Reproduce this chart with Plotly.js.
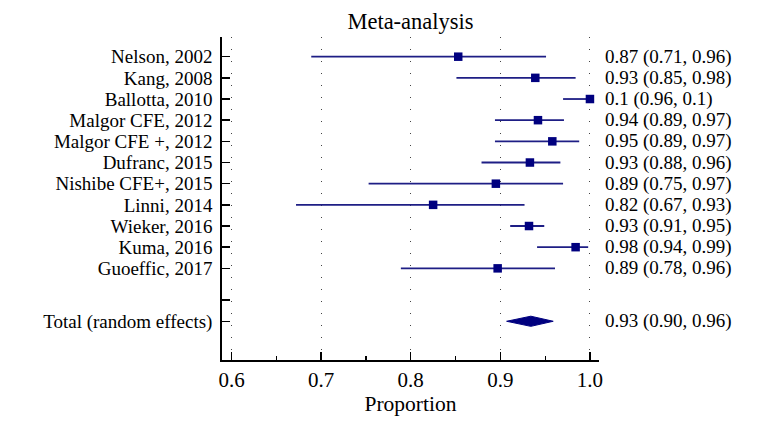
<!DOCTYPE html>
<html>
<head>
<meta charset="utf-8">
<script src="https://cdn.plot.ly/plotly-3.0.1.min.js"></script>
<style>html,body{margin:0;padding:0;background:#fff;}#chart{width:758px;height:429px;}</style>
</head>
<body>
<div id="chart"></div>
<script>
const studies = ["Nelson, 2002","Kang, 2008","Ballotta, 2010","Malgor CFE, 2012","Malgor CFE +, 2012","Dufranc, 2015","Nishibe CFE+, 2015","Linni, 2014","Wieker, 2016","Kuma, 2016","Guoeffic, 2017"];
const estimates = [0.853, 0.939, 1.0, 0.942, 0.958, 0.933, 0.895, 0.825, 0.932, 0.984, 0.897];
const lowerCI   = [0.689, 0.851, 0.970, 0.894, 0.894, 0.879, 0.753, 0.672, 0.911, 0.941, 0.789];
const upperCI   = [0.951, 0.984, 1.0, 0.971, 0.988, 0.967, 0.970, 0.927, 0.949, 0.998, 0.961];
const ciLabels  = ["0.87 (0.71, 0.96)","0.93 (0.85, 0.98)","0.1 (0.96, 0.1)","0.94 (0.89, 0.97)","0.95 (0.89, 0.97)","0.93 (0.88, 0.96)","0.89 (0.75, 0.97)","0.82 (0.67, 0.93)","0.93 (0.91, 0.95)","0.98 (0.94, 0.99)","0.89 (0.78, 0.96)"];
const totalLabel = "Total (random effects)";
const totalEstimate = 0.934;
const totalLower = 0.907;
const totalUpper = 0.959;
const totalCILabel = "0.93 (0.90, 0.96)";
const xTickVals = [0.6, 0.7, 0.8, 0.9, 1.0];
const xTickText = ["0.6","0.7","0.8","0.9","1.0"];

const navy = "#00007f";
const lineNavy = "#1e1e85";
const serif = "Liberation Serif, Times New Roman, serif";
const n = studies.length;
const yStudy = studies.map((_, i) => i);
const yBlank = n + 0.5;
const yTotal = n + 1.5;
const dh = 0.24;

const traces = [
  {
    type: "scatter", mode: "markers",
    x: estimates, y: yStudy,
    marker: {symbol: "square", size: 8.5, color: navy},
    error_x: {
      type: "data", symmetric: false,
      array: estimates.map((e, i) => upperCI[i] - e),
      arrayminus: estimates.map((e, i) => e - lowerCI[i]),
      width: 0, thickness: 1.8, color: lineNavy
    },
    cliponaxis: false, hoverinfo: "skip", showlegend: false
  },
  {
    type: "scatter", mode: "lines",
    x: [totalLower, totalEstimate, totalUpper, totalEstimate, totalLower],
    y: [yTotal, yTotal - dh, yTotal, yTotal + dh, yTotal],
    fill: "toself", fillcolor: navy, line: {color: navy, width: 1},
    hoverinfo: "skip", showlegend: false
  }
];

const labelFont = {family: serif, size: 19, color: "#000"};
const annotations = ciLabels.map((t, i) => ({
  xref: "paper", yref: "y", x: 1, y: yStudy[i], text: t,
  xanchor: "left", yanchor: "middle", xshift: 4, showarrow: false,
  font: labelFont
}));
annotations.push({
  xref: "paper", yref: "y", x: 1, y: yTotal, text: totalCILabel,
  xanchor: "left", yanchor: "middle", xshift: 4, showarrow: false,
  font: labelFont
});

const layout = {
  width: 758, height: 429,
  margin: {l: 222, r: 159, t: 37, b: 69, pad: 0},
  paper_bgcolor: "#fff", plot_bgcolor: "#fff",
  title: {text: "Meta-analysis", font: {family: serif, size: 22.5, color: "#000"}, x: 0.5, xref: "paper", y: 0.95, yanchor: "middle"},
  xaxis: {
    range: [0.5894, 1.0101], showline: true, linecolor: "#000", linewidth: 1.8,
    zeroline: false, ticks: "inside", ticklen: 8, tickwidth: 1.4, tickcolor: "#000",
    tickvals: xTickVals, ticktext: xTickText,
    tickfont: {family: serif, size: 21, color: "#000"},
    showgrid: true, gridcolor: "#444", gridwidth: 1, griddash: "1px,11px",
    minor: {ticks: "inside", ticklen: 4, tickwidth: 1.2, tickcolor: "#000", dtick: 0.05, tick0: 0.6, showgrid: false},
    title: {text: "Proportion", font: {family: serif, size: 21.5, color: "#000"}, standoff: 2}
  },
  yaxis: {
    range: [n + 3.33, -0.93], showline: true, linecolor: "#000", linewidth: 1.8,
    zeroline: false, showgrid: false,
    ticks: "inside", ticklen: 8, tickwidth: 1.4, tickcolor: "#000",
    tickvals: yStudy.concat([yBlank, yTotal]),
    ticktext: studies.concat(["", totalLabel]),
    tickfont: labelFont,
    ticklabelstandoff: 4
  },
  annotations: annotations
};

Plotly.newPlot("chart", traces, layout, {displayModeBar: false, staticPlot: true});
</script>
</body>
</html>
